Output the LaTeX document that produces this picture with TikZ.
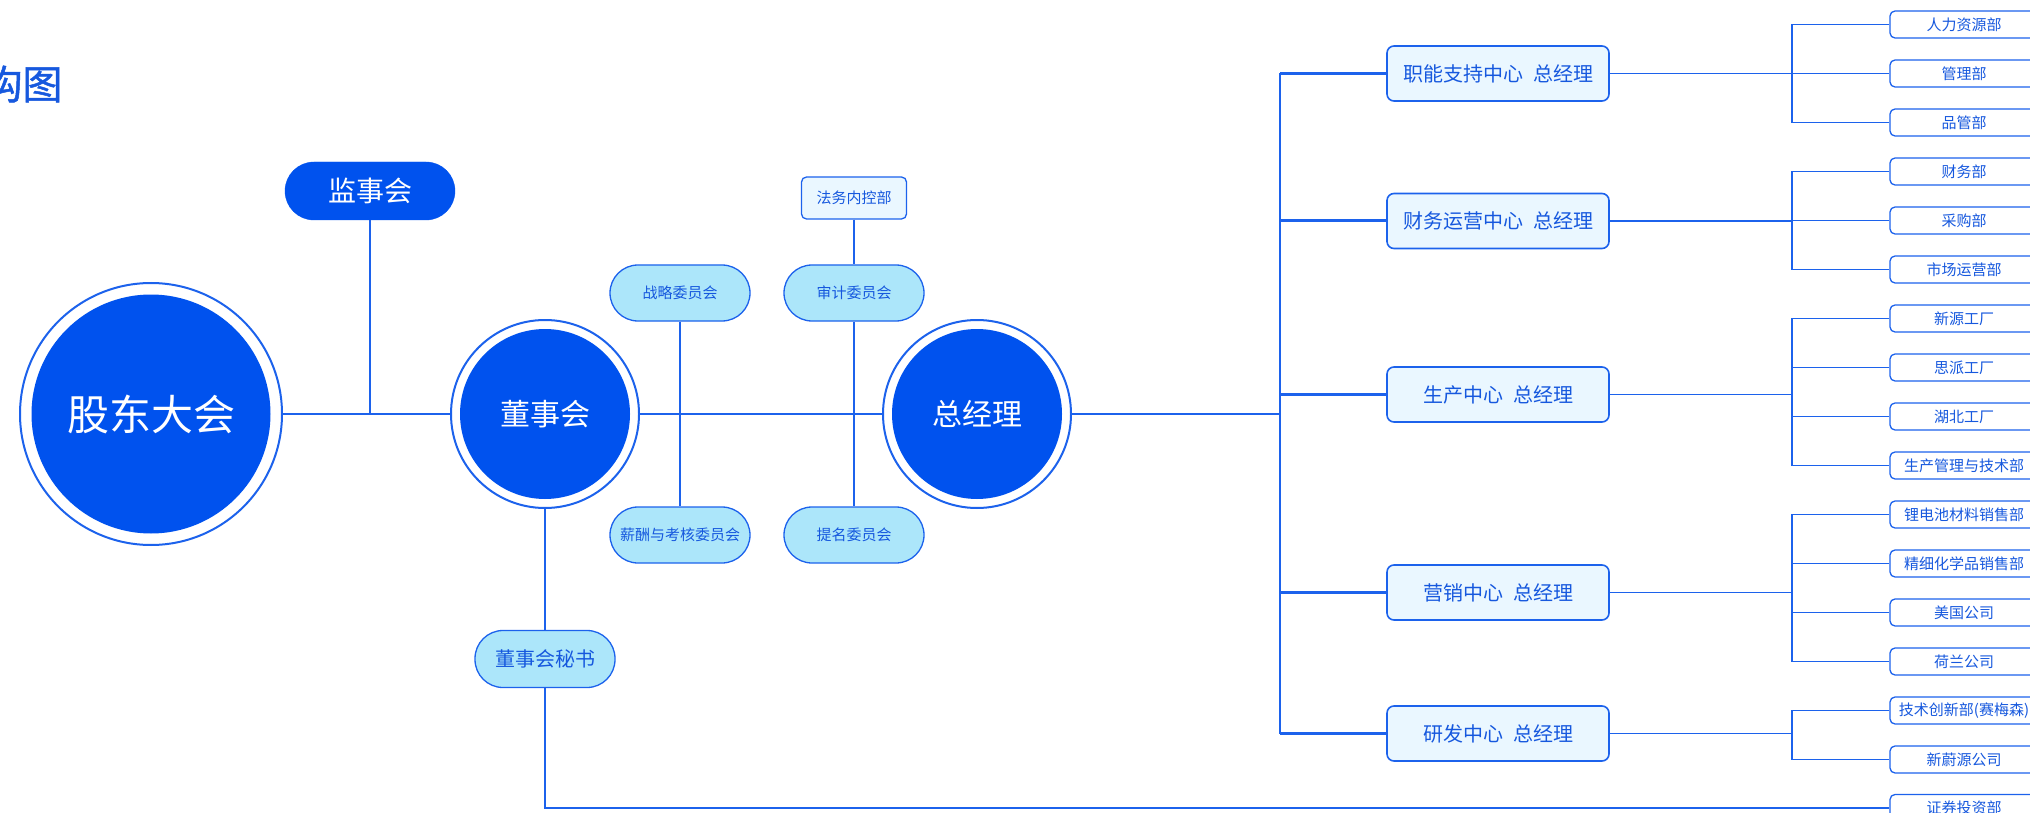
\documentclass[tikz,border=0pt]{standalone}
\usepackage{fontspec}
\setmainfont{Noto Sans CJK SC}
\newfontfamily\titlefont[FakeBold=1.2]{Noto Sans CJK SC}
\definecolor{mainblue}{RGB}{0,82,238}
\definecolor{lineblue}{RGB}{28,98,236}
\definecolor{cyanfill}{RGB}{172,230,250}
\definecolor{palefill}{RGB}{234,247,255}
\definecolor{txtblue}{RGB}{22,88,222}
\newcommand{\fs}[1]{\fontsize{#1}{#1}\selectfont}
\tikzset{
  ring/.style={circle, draw=lineblue, line width=2pt, fill=white, inner sep=0pt, text=white,
    path picture={\fill[mainblue] (path picture bounding box.center) circle (#1);}},
  bluepill/.style={rectangle, rounded corners=29pt, fill=mainblue, draw=mainblue, text=white,
    minimum width=170pt, minimum height=58pt, inner sep=0pt, font=\fs{28}},
  cpill/.style={rectangle, rounded corners=28pt, fill=cyanfill, draw=lineblue, line width=1.3pt,
    text=txtblue, minimum width=140pt, minimum height=56pt, inner sep=0pt, font=\fs{15}},
  legalbox/.style={rectangle, rounded corners=5pt, fill=palefill, draw=lineblue, line width=1.3pt,
    text=txtblue, minimum width=105pt, minimum height=42pt, inner sep=0pt, font=\fs{15}},
  centerbox/.style={rectangle, rounded corners=7pt, fill=palefill, draw=lineblue, line width=1.6pt,
    text=txtblue, minimum width=222pt, minimum height=55pt, inner sep=0pt, font=\fs{20}},
  leaf/.style={rectangle, rounded corners=5pt, fill=white, draw=lineblue, line width=1.3pt,
    text=txtblue, minimum width=148pt, minimum height=27pt, inner sep=0pt, font=\fs{15}},
  conn/.style={draw=lineblue, line width=2.2pt},
  thickconn/.style={draw=lineblue, line width=3pt},
  thinconn/.style={draw=lineblue, line width=1.6pt},
}
\begin{document}
\begin{tikzpicture}[x=1pt,y=-1pt]
\useasboundingbox (0,0) rectangle (2030,813);
% title (partly cut off at left edge)
\node[anchor=center, text=txtblue, font=\titlefont\fs{40}] (title) at (22.5,84) {构图};
% left part
\node[ring=119.5pt, minimum size=262pt, font=\fs{42}] (gd) at (151,414) {股东大会};
\node[bluepill] (jsh) at (370,191) {监事会};
\node[ring=85pt, minimum size=188pt, font=\fs{30}] (dsh) at (545,414) {董事会};
\node[ring=85pt, minimum size=188pt, font=\fs{30}] (zjl) at (977,414) {总经理};
\node[cpill] (zl) at (680,293) {战略委员会};
\node[cpill] (xc) at (680,535) {薪酬与考核委员会};
\node[cpill] (sj) at (854,293) {审计委员会};
\node[cpill] (tm) at (854,535) {提名委员会};
\node[legalbox] (fw) at (854,198) {法务内控部};
\node[cpill, minimum height=57pt, font=\fs{20}] (ms) at (545,659) {董事会秘书};
% center boxes
\node[centerbox] (c1) at (1498,73.5) {职能支持中心\hspace{0.5em}总经理};
\node[centerbox] (c2) at (1498,221) {财务运营中心\hspace{0.5em}总经理};
\node[centerbox] (c3) at (1498,394.5) {生产中心\hspace{0.5em}总经理};
\node[centerbox] (c4) at (1498,592.5) {营销中心\hspace{0.5em}总经理};
\node[centerbox] (c5) at (1498,733.5) {研发中心\hspace{0.5em}总经理};
% leaf boxes
\node[leaf] (l1)  at (1964,24.5)  {人力资源部};
\node[leaf] (l2)  at (1964,73.5)  {管理部};
\node[leaf] (l3)  at (1964,122.5) {品管部};
\node[leaf] (l4)  at (1964,171.5) {财务部};
\node[leaf] (l5)  at (1964,220.5) {采购部};
\node[leaf] (l6)  at (1964,269.5) {市场运营部};
\node[leaf] (l7)  at (1964,318.5) {新源工厂};
\node[leaf] (l8)  at (1964,367.5) {思派工厂};
\node[leaf] (l9)  at (1964,416.5) {湖北工厂};
\node[leaf] (l10) at (1964,465.5) {生产管理与技术部};
\node[leaf] (l11) at (1964,514.5) {锂电池材料销售部};
\node[leaf] (l12) at (1964,563.5) {精细化学品销售部};
\node[leaf] (l13) at (1964,612.5) {美国公司};
\node[leaf] (l14) at (1964,661.5) {荷兰公司};
\node[leaf] (l15) at (1964,710.5) {技术创新部(赛梅森)};
\node[leaf] (l16) at (1964,759.5) {新蔚源公司};
\node[leaf] (l17) at (1964,808)   {证券投资部};
% coordinates for trunks
\coordinate (trunk) at (1280,0);
\coordinate (sub) at (1792,0);
% connectors, left part
\draw[conn] (gd.east) -- (dsh.west);
\draw[conn] (jsh.south) -- (jsh.south |- gd.east);
\draw[conn] (dsh.east) -- (zjl.west);
\draw[conn] (zl.south) -- (xc.north);
\draw[conn] (sj.south) -- (tm.north);
\draw[conn] (fw.south) -- (sj.north);
\draw[conn] (dsh.south) -- (ms.north);
\draw[conn] (ms.south) |- (l17.west);
% main trunk
\draw[conn] (zjl.east) -- (zjl.east -| trunk);
\draw[conn] (c1.west -| trunk) -- (c5.west -| trunk);
\foreach \c in {c1,c2,c3,c4,c5}{\draw[thickconn] (\c.west) -- (\c.west -| trunk);}
% sub groups
\draw[thinconn] (l1.west) -- (l1.west -| sub) -- (l3.west -| sub) -- (l3.west);
\draw[thinconn] (c1.east) -- (l2.west);
\draw[thinconn] (l4.west) -- (l4.west -| sub) -- (l6.west -| sub) -- (l6.west);
\draw[thinconn] (c2.east) -- (c2.east -| sub);
\draw[thinconn] (l5.west -| sub) -- (l5.west);
\draw[thinconn] (l7.west) -- (l7.west -| sub) -- (l10.west -| sub) -- (l10.west);
\draw[thinconn] (l8.west -| sub) -- (l8.west);
\draw[thinconn] (l9.west -| sub) -- (l9.west);
\draw[thinconn] (c3.east) -- (c3.east -| sub);
\draw[thinconn] (l11.west) -- (l11.west -| sub) -- (l14.west -| sub) -- (l14.west);
\draw[thinconn] (l12.west -| sub) -- (l12.west);
\draw[thinconn] (l13.west -| sub) -- (l13.west);
\draw[thinconn] (c4.east) -- (c4.east -| sub);
\draw[thinconn] (l15.west) -- (l15.west -| sub) -- (l16.west -| sub) -- (l16.west);
\draw[thinconn] (c5.east) -- (c5.east -| sub);
\end{tikzpicture}
\end{document}
